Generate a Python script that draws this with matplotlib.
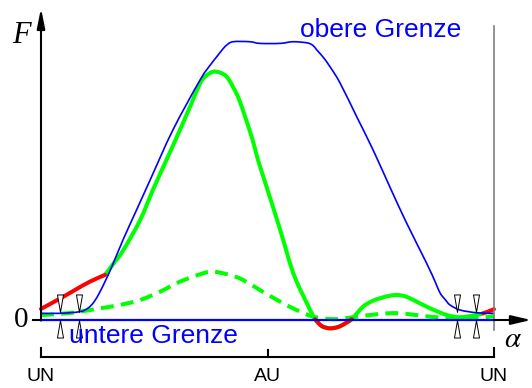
import numpy as np
import matplotlib.pyplot as plt
from matplotlib.path import Path
from matplotlib.patches import PathPatch

# alpha runs from UN (0) over AU (0.5) back to UN (1); F is scaled so the plateau is ~1

# upper limit (obere Grenze)
upper_alpha = [0.0, 0.042, 0.086, 0.104, 0.117, 0.130, 0.143, 0.157, 0.181, 0.211,
               0.241, 0.291, 0.351, 0.375, 0.388, 0.400, 0.410, 0.424, 0.461, 0.483,
               0.528, 0.556, 0.587, 0.600, 0.609, 0.623, 0.638, 0.660, 0.697, 0.733,
               0.770, 0.807, 0.851, 0.870, 0.881, 0.893, 0.903, 0.925, 0.962, 1.0]
upper_F = [0.024, 0.024, 0.030, 0.043, 0.065, 0.101, 0.144, 0.194, 0.288, 0.396,
           0.504, 0.683, 0.863, 0.920, 0.947, 0.972, 0.989, 1.001, 1.001, 0.995,
           0.995, 1.001, 0.997, 0.988, 0.971, 0.945, 0.911, 0.853, 0.731, 0.612,
           0.479, 0.349, 0.205, 0.138, 0.097, 0.072, 0.054, 0.036, 0.026, 0.024]

# lower limit (untere Grenze)
lower_alpha = [0.0, 1.0]
lower_F = [0.0, 0.0]

# full curve, inside the limits
curve_alpha = [0.141, 0.161, 0.182, 0.219, 0.247, 0.274, 0.300, 0.329, 0.351, 0.364,
               0.380, 0.395, 0.410, 0.424, 0.439, 0.465, 0.479, 0.498, 0.528, 0.557,
               0.587, 0.605, 0.620, 0.638, 0.656, 0.671, 0.686, 0.711, 0.731, 0.748,
               0.766, 0.785, 0.804, 0.822, 0.859, 0.896, 0.925, 0.962, 0.976]
curve_F = [0.162, 0.205, 0.252, 0.360, 0.468, 0.565, 0.659, 0.767, 0.851, 0.878,
           0.893, 0.890, 0.875, 0.838, 0.786, 0.659, 0.576, 0.479, 0.324, 0.168,
           0.060, 0.003, -0.022, -0.030, -0.025, -0.013, 0.003, 0.048, 0.068, 0.078,
           0.086, 0.090, 0.085, 0.072, 0.042, 0.018, 0.010, 0.018, 0.024]

# parts of the curve that violate the limits
viol_left_alpha = [0.0, 0.042, 0.075, 0.108, 0.141]
viol_left_F = [0.040, 0.077, 0.108, 0.138, 0.162]
viol_mid_alpha = [0.605, 0.620, 0.638, 0.656, 0.671, 0.686]
viol_mid_F = [0.003, -0.022, -0.030, -0.025, -0.013, 0.003]
viol_end_alpha = [0.976, 0.988, 1.0]
viol_end_F = [0.024, 0.031, 0.039]

# smaller second curve (dashed)
small_alpha = [0.0, 0.042, 0.086, 0.130, 0.174, 0.219, 0.263, 0.307, 0.358, 0.380,
               0.417, 0.445, 0.483, 0.528, 0.564, 0.601, 0.645, 0.689, 0.748, 0.792,
               0.859, 0.909, 0.954, 0.991, 1.0]
small_F = [0.018, 0.022, 0.030, 0.042, 0.054, 0.072, 0.102, 0.138, 0.168, 0.174,
           0.162, 0.145, 0.108, 0.066, 0.036, 0.012, 0.003, 0.010, 0.022, 0.024,
           0.012, 0.006, 0.006, 0.012, 0.014]

# tolerance marks
mark_alpha = [0.042, 0.084, 0.918, 0.960]
mark_F = 0.0126

section_alpha = [0.0, 0.5, 1.0]
section_labels = ['UN', 'AU', 'UN']

blue = '#0000ff'
green = '#00ff00'
red = '#ff0000'


def smooth_path(xs, ys):
    # Catmull-Rom through the points, written as cubic Bezier segments
    p = np.column_stack([xs, ys]).astype(float)
    p = np.vstack([p[0], p, p[-1]])
    verts = [p[1]]
    codes = [Path.MOVETO]
    for i in range(1, len(p) - 2):
        c1 = p[i] + (p[i + 1] - p[i - 1]) / 6
        c2 = p[i + 1] - (p[i + 2] - p[i]) / 6
        verts += [c1, c2, p[i + 1]]
        codes += [Path.CURVE4] * 3
    return Path(verts, codes)


def draw_curve(ax, xs, ys, **kw):
    ax.add_patch(PathPatch(smooth_path(xs, ys), fill=False, **kw))


fig = plt.figure(figsize=(5.32, 3.88), dpi=100)
ax = fig.add_axes([0, 0, 1, 1])
ax.set_xlim(-41 / 453, 491 / 453)
ax.set_ylim(-68 / 278, 320 / 278)
ax.axis('off')

# axes with arrows
ax.annotate('', xy=(0, 1.122), xytext=(0, -0.002),
            arrowprops=dict(arrowstyle='-|>,head_length=0.6,head_width=0.12',
                            mutation_scale=20, color='black', lw=1.5, shrinkA=0, shrinkB=0))
ax.annotate('', xy=(1.082, 0), xytext=(1.0, 0),
            arrowprops=dict(arrowstyle='-|>,head_length=0.6,head_width=0.14',
                            mutation_scale=20, color='black', lw=1.5, shrinkA=0, shrinkB=0))
ax.plot([-0.018, 0], [0, 0], color='black', lw=1.5)
ax.plot([1.0, 1.0], [-0.036, 1.058], color='gray', lw=1.2)

ax.text(-0.042, 1.022, 'F', family='Liberation Serif', style='italic', fontsize=22,
        ha='center', va='center')
ax.text(-0.044, 0.0, '0', family='Liberation Serif', fontsize=21, ha='center', va='center')
ax.text(1.042, -0.068, r'$\alpha$', fontsize=21, ha='center', va='center',
        math_fontfamily='stix')

# curves
draw_curve(ax, small_alpha, small_F, edgecolor=green, lw=2.9, ls=(0, (3.2, 1.8)),
           capstyle='butt')
draw_curve(ax, curve_alpha, curve_F, edgecolor=green, lw=2.9, capstyle='round')
for a, f in [(viol_left_alpha, viol_left_F), (viol_mid_alpha, viol_mid_F),
             (viol_end_alpha, viol_end_F)]:
    draw_curve(ax, a, f, edgecolor=red, lw=2.9, capstyle='round')
draw_curve(ax, upper_alpha, upper_F, edgecolor=blue, lw=1.2)
ax.plot(lower_alpha, lower_F, color=blue, lw=1.6)

# hourglass markers
w, g = 0.14, 0.19
hourglass = Path([(-w, 1), (w, 1), (0, g), (-w, 1),
                  (0, -g), (w, -1), (-w, -1), (0, -g)],
                 [Path.MOVETO, Path.LINETO, Path.LINETO, Path.CLOSEPOLY,
                  Path.MOVETO, Path.LINETO, Path.LINETO, Path.CLOSEPOLY])
ax.plot(mark_alpha, [mark_F] * len(mark_alpha), ls='none', marker=hourglass, ms=31,
        mfc='white', mec='black', mew=0.7)

ax.text(0.572, 1.017, 'obere Grenze', color=blue, fontsize=19, family='Liberation Sans',
        ha='left', va='baseline')
ax.text(0.062, -0.058, 'untere Grenze', color=blue, fontsize=19, family='Liberation Sans',
        ha='left', va='center')

# section bracket at the bottom
ax.plot([0, 1], [-0.133, -0.133], color='black', lw=1.5)
for a in section_alpha:
    top = -0.108 if a == 0.5 else -0.101
    ax.plot([a, a], [top, -0.133], color='black', lw=1.5)
for a, lab in zip(section_alpha, section_labels):
    ax.text(a, -0.205, lab, fontsize=14, family='Liberation Sans', ha='center', va='center')

fig.savefig('out.png', dpi=100)
